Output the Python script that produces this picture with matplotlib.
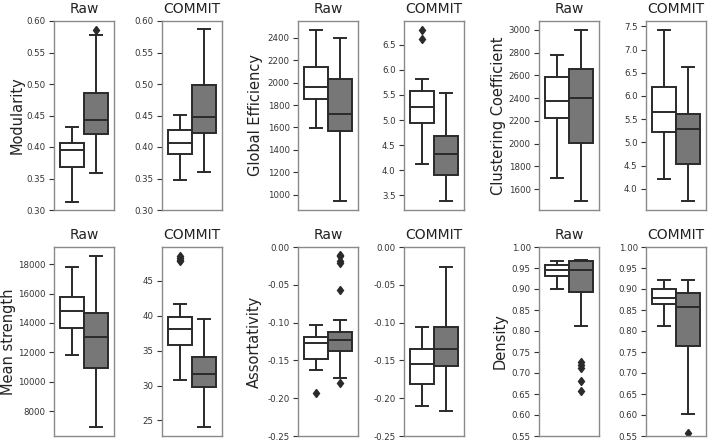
import matplotlib.pyplot as plt

metrics = ["Modularity", "Global Efficiency", "Clustering Coefficient",
           "Mean strength", "Assortativity", "Density"]
methods = ["Raw", "COMMIT"]

# (whislo, q1, median, q3, whishi) for the white box and the gray box
mod_raw = [(0.312, 0.368, 0.395, 0.407, 0.431), (0.359, 0.421, 0.443, 0.485, 0.578)]
mod_commit = [(0.348, 0.389, 0.406, 0.427, 0.451), (0.361, 0.423, 0.447, 0.498, 0.587)]
ge_raw = [(1596, 1852, 1962, 2141, 2474), (940, 1572, 1724, 2031, 2400)]
ge_commit = [(4.13, 4.95, 5.25, 5.58, 5.81), (3.38, 3.91, 4.33, 4.69, 5.53)]
cc_raw = [(1695, 2228, 2378, 2590, 2776), (1491, 2004, 2402, 2655, 3003)]
cc_commit = [(4.21, 5.22, 5.66, 6.20, 7.43), (3.73, 4.54, 5.29, 5.61, 6.62)]
ms_raw = [(11804, 13672, 14834, 15790, 17840), (6884, 10961, 13011, 14651, 18592)]
ms_commit = [(30.74, 35.86, 38.06, 39.74, 41.6), (24.0, 29.74, 31.70, 34.14, 39.55)]
as_raw = [(-0.1624, -0.1487, -0.1274, -0.1195, -0.1035), (-0.1735, -0.138, -0.1226, -0.1124, -0.0969)]
as_commit = [(-0.2106, -0.181, -0.1549, -0.1354, -0.1058), (-0.2164, -0.1575, -0.1354, -0.1053, -0.0261)]
den_raw = [(0.901, 0.932, 0.945, 0.957, 0.967), (0.812, 0.893, 0.946, 0.966, 0.968)]
den_commit = [(0.812, 0.864, 0.879, 0.900, 0.922), (0.603, 0.765, 0.857, 0.890, 0.922)]

# outliers for white / gray box
mod_raw_fl = [[], [0.586]]
mod_commit_fl = [[], []]
ge_raw_fl = [[], []]
ge_commit_fl = [[6.61, 6.80], []]
cc_raw_fl = [[], []]
cc_commit_fl = [[], []]
ms_raw_fl = [[], []]
ms_commit_fl = [[47.8, 48.0, 48.3, 48.6], []]
as_raw_fl = [[-0.1934], [-0.010, -0.012, -0.019, -0.021, -0.057, -0.180]]
as_commit_fl = [[], []]
den_raw_fl = [[], [0.727, 0.719, 0.711, 0.680, 0.658]]
den_commit_fl = [[], [0.557]]

yticks = {
    "Modularity": [0.30, 0.35, 0.40, 0.45, 0.50, 0.55, 0.60],
    "Global Efficiency": [1000, 1200, 1400, 1600, 1800, 2000, 2200, 2400],
    "Clustering Coefficient": [1600, 1800, 2000, 2200, 2400, 2600, 2800, 3000],
    "Mean strength": [8000, 10000, 12000, 14000, 16000, 18000],
    "Assortativity": [-0.25, -0.20, -0.15, -0.10, -0.05, 0.00],
    "Density": [0.55, 0.60, 0.65, 0.70, 0.75, 0.80, 0.85, 0.90, 0.95, 1.00],
}
yticks_commit = {
    "Modularity": [0.30, 0.35, 0.40, 0.45, 0.50, 0.55, 0.60],
    "Global Efficiency": [3.5, 4.0, 4.5, 5.0, 5.5, 6.0, 6.5],
    "Clustering Coefficient": [4.0, 4.5, 5.0, 5.5, 6.0, 6.5, 7.0, 7.5],
    "Mean strength": [25, 30, 35, 40, 45],
    "Assortativity": [-0.25, -0.20, -0.15, -0.10, -0.05, 0.00],
    "Density": [0.55, 0.60, 0.65, 0.70, 0.75, 0.80, 0.85, 0.90, 0.95, 1.00],
}
fixed_ylim = {"Modularity": (0.30, 0.60), "Assortativity": (-0.25, 0.0), "Density": (0.55, 1.0)}
fmt = {"Modularity": "%.2f", "Assortativity": "%.2f", "Density": "%.2f",
       "Global Efficiency": None, "Clustering Coefficient": None, "Mean strength": None}

panels = [
    ("Modularity", mod_raw, mod_raw_fl, mod_commit, mod_commit_fl),
    ("Global Efficiency", ge_raw, ge_raw_fl, ge_commit, ge_commit_fl),
    ("Clustering Coefficient", cc_raw, cc_raw_fl, cc_commit, cc_commit_fl),
    ("Mean strength", ms_raw, ms_raw_fl, ms_commit, ms_commit_fl),
    ("Assortativity", as_raw, as_raw_fl, as_commit, as_commit_fl),
    ("Density", den_raw, den_raw_fl, den_commit, den_commit_fl),
]

W, H = 709, 441
fig = plt.figure(figsize=(W / 100, H / 100), dpi=100)

lefts = [54, 162, 298, 404, 539, 646]
tops = [21, 247]
aw, ah = 60, 189
# right edge of each rotated ylabel, pixels from the figure's left edge
label_x = [25, 263, 506, 16, 262, 508]
line_c = "#2a2a2a"
fills = ["white", "#777777"]


def make_stats(boxes, fliers):
    out = []
    for (lo, q1, med, q3, hi), fl in zip(boxes, fliers):
        out.append(dict(whislo=lo, q1=q1, med=med, q3=q3, whishi=hi, fliers=fl))
    return out


for i, (name, raw, raw_fl, com, com_fl) in enumerate(panels):
    row, col = divmod(i, 3)
    for j, (boxes, fl) in enumerate([(raw, raw_fl), (com, com_fl)]):
        left = lefts[col * 2 + j]
        ax = fig.add_axes([left / W, 1 - (tops[row] + ah) / H, aw / W, ah / H])
        bp = ax.bxp(make_stats(boxes, fl), positions=[-0.2, 0.2], widths=0.4,
                    capwidths=0.2, patch_artist=True,
                    boxprops=dict(edgecolor=line_c, linewidth=1.4),
                    whiskerprops=dict(color=line_c, linewidth=1.4),
                    capprops=dict(color=line_c, linewidth=1.4),
                    medianprops=dict(color=line_c, linewidth=1.4),
                    flierprops=dict(marker="d", markerfacecolor=line_c,
                                    markeredgecolor=line_c, markersize=4.5))
        for patch, c in zip(bp["boxes"], fills):
            patch.set_facecolor(c)
        ax.set_xlim(-0.5, 0.5)
        ax.set_xticks([])
        if name in fixed_ylim:
            ax.set_ylim(*fixed_ylim[name])
        ticks = yticks[name] if j == 0 else yticks_commit[name]
        ax.set_yticks(ticks)
        if fmt[name]:
            ax.set_yticklabels([fmt[name] % t for t in ticks])
        ax.tick_params(axis="y", labelsize=6.2, colors="#333333", length=3.5,
                       width=0.8, pad=2.5)
        for s in ax.spines.values():
            s.set_color("#8a8a8a")
            s.set_linewidth(1.0)
        ax.set_title(methods[j], fontsize=10, color="#222222", pad=6)
        if j == 0:
            ax.set_ylabel(name, fontsize=10.5, color="#222222")
            ax.yaxis.set_label_coords((label_x[i] - left) / aw, 0.5)

fig.savefig("out.png", dpi=100)
